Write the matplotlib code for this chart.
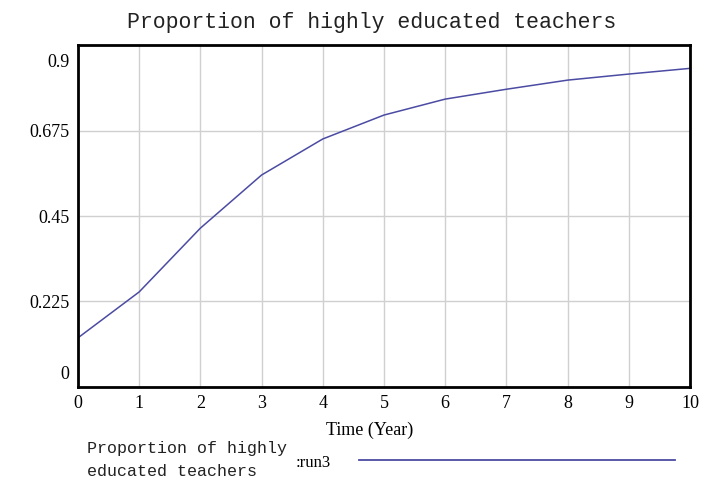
import matplotlib.pyplot as plt
import matplotlib.transforms as mtransforms
import numpy as np

years = [0, 1, 2, 3, 4, 5, 6, 7, 8, 9, 10]
proportion = [0.129, 0.25, 0.418, 0.558, 0.653, 0.716, 0.758, 0.784, 0.808, 0.824, 0.839]
yticks = [0, 0.225, 0.45, 0.675, 0.9]
ytick_labels = ['0', '0.225', '0.45', '0.675', '0.9']

line_color = '#4b4ba3'
mono = 'Liberation Mono'
serif = 'Liberation Serif'

fig = plt.figure(figsize=(7.02, 4.86), dpi=100)
ax = fig.add_axes([0.111, 0.204, 0.872, 0.703])

ax.plot(years, proportion, color=line_color, lw=1.1)

ax.set_xlim(0, 10)
ax.set_ylim(0, 0.9)
ax.set_xticks(years)
ax.set_yticks(yticks)
ax.set_yticklabels(ytick_labels)
ax.grid(True, color='#d0d0d0', lw=1)
ax.tick_params(length=0, labelsize=13, pad=6)
for lab in ax.get_xticklabels() + ax.get_yticklabels():
    lab.set_fontfamily(serif)

# Vensim-style: end labels pulled inside the axis range
ylabs = ax.get_yticklabels()
ylabs[0].set_transform(ylabs[0].get_transform() + mtransforms.ScaledTranslation(0, 14/100, fig.dpi_scale_trans))
ylabs[-1].set_transform(ylabs[-1].get_transform() + mtransforms.ScaledTranslation(0, -15/100, fig.dpi_scale_trans))

for s in ax.spines.values():
    s.set_linewidth(2)
    s.set_color('black')

fig.text(0.53, 0.953, 'Proportion of highly educated teachers', family=mono,
         fontsize=15.5, ha='center', va='center', color='#222222')
fig.text(0.527, 0.115, 'Time (Year)', family=serif, fontsize=13,
         ha='center', va='center')

# legend block
fig.text(0.124, 0.053, 'Proportion of highly\neducated teachers', family=mono,
         fontsize=12, ha='left', va='center', linespacing=1.7, color='#222222')
fig.text(0.421, 0.048, ':run3', family=serif, fontsize=12, ha='left', va='center')
fig.add_artist(plt.Line2D([0.512, 0.962], [0.053, 0.053], color=line_color, lw=1.3,
                          transform=fig.transFigure))

fig.savefig('out.png', dpi=100)
